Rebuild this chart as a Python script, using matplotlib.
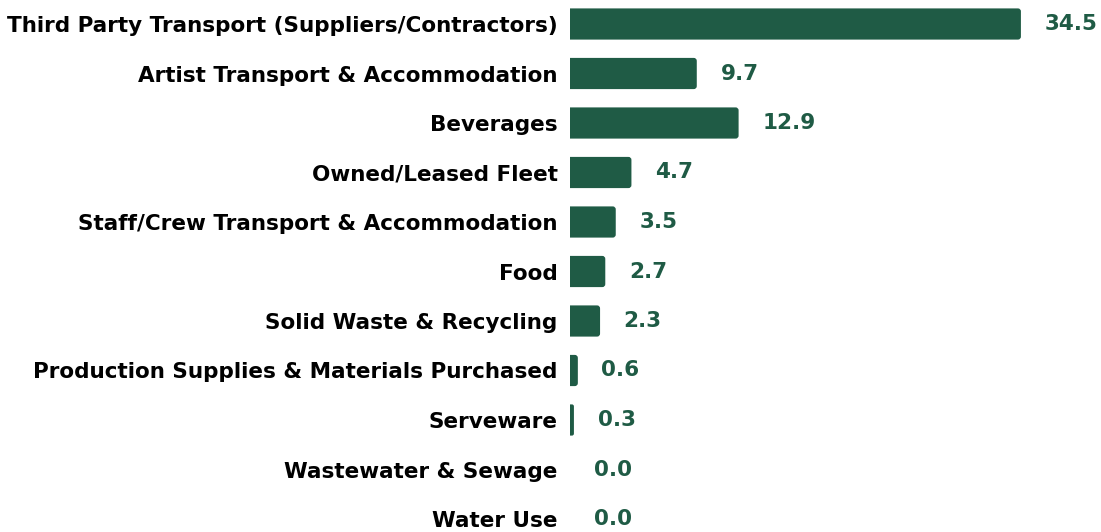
import matplotlib.pyplot as plt
from matplotlib.patches import FancyBboxPatch

# Kategori dan nilai
categories = [
    'Third Party Transport (Suppliers/Contractors)',
    'Artist Transport & Accommodation',
    'Beverages',
    'Owned/Leased Fleet',
    'Staff/Crew Transport & Accommodation',
    'Food',
    'Solid Waste & Recycling',
    'Production Supplies & Materials Purchased',
    'Serveware',
    'Wastewater & Sewage',
    'Water Use',
]
values = [34.5, 9.7, 12.9, 4.7, 3.5, 2.7, 2.3, 0.6, 0.3, 0.0, 0.0]

bar_color = '#1f5b45'
px_x = 13.07   # piksel per satuan x
px_y = 49.5    # piksel per baris

fig = plt.figure(figsize=(11.01, 5.32), dpi=100)
ax = fig.add_axes([570 / 1101, 0, 531 / 1101, 1])

ypos = list(range(len(categories)))
bars = ax.barh(ypos, values, height=0.63, color=bar_color)

# ujung kanan bar dibulatkan, ujung kiri terpotong oleh sumbu (tetap siku)
aspect = (1 / px_y) / (1 / px_x)
shift = 0.5
for b in bars:
    w = b.get_width()
    b.set_visible(False)
    if w <= 0:
        continue
    y0 = b.get_y()
    h = b.get_height()
    r = min(0.23, w / 2)
    ax.add_patch(FancyBboxPatch((-shift, y0), w + shift, h,
                                boxstyle=f'round,pad=0,rounding_size={r}',
                                mutation_aspect=aspect, facecolor=bar_color, edgecolor='none'))

for y, v in zip(ypos, values):
    ax.annotate(f'{v:.1f}', (v, y), xytext=(17, 0), textcoords='offset points',
                va='center', ha='left', fontsize=15.5, fontweight='bold', color=bar_color)

ax.set_xlim(0, 531 / px_x)
ax.set_ylim((532 - 24) / px_y, -24 / px_y)
ax.set_yticks(ypos)
ax.set_yticklabels(categories, fontsize=15.5, fontweight='bold')
ax.tick_params(axis='y', length=0, pad=9)
ax.set_xticks([])
for s in ax.spines.values():
    s.set_visible(False)

fig.savefig('out.png', dpi=100)
